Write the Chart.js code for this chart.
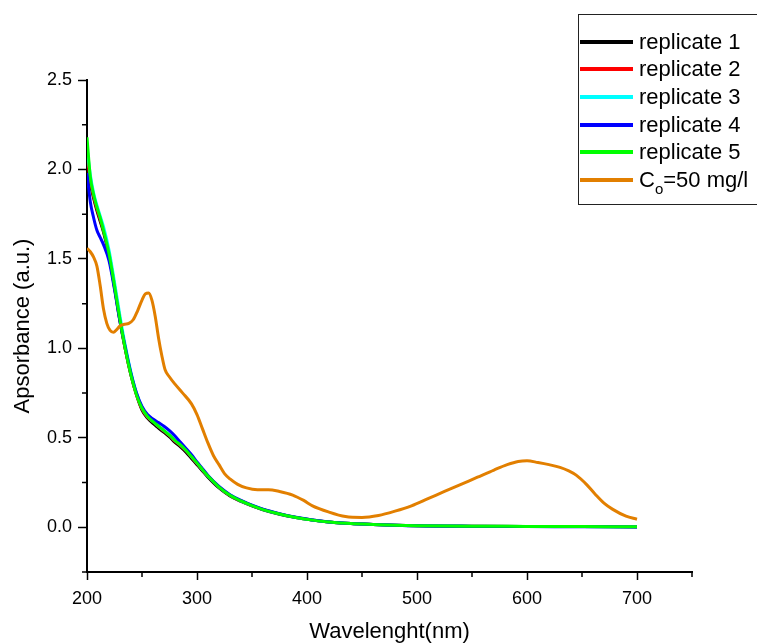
<!DOCTYPE html>
<html>
<head>
<meta charset="utf-8">
<script src="https://cdn.jsdelivr.net/npm/chart.js@4"></script>
<style>
  body { margin: 0; background: #fff; }
  #wrap { position: relative; width: 757px; height: 643px; overflow: hidden; }
  #legend {
    position: absolute; left: 578px; top: 14px; width: 200px; height: 191px;
    border: 1.5px solid #222; box-sizing: border-box;
    font-family: Arial, "Liberation Sans", sans-serif; font-size: 22px; color: #000;
  }
  .row { position: absolute; left: 0; height: 26px; }
  .row i { position: absolute; left: 1px; top: 11px; width: 53px; height: 4px; }
  .row span { position: absolute; left: 60px; top: 0; line-height: 26px; white-space: nowrap; }
  .row sub { font-size: 15px; vertical-align: -7px; line-height: 0; }
</style>
</head>
<body>
<div id="wrap">
  <canvas id="c" width="757" height="643"></canvas>
  <div id="legend"></div>
</div>
<script>
// replicates share one wavelength grid
const repWavelength = [200, 203, 206, 209, 212, 215, 220, 225, 230, 235, 240, 245, 250, 255, 260, 265, 270, 275, 280, 285, 290, 295, 300, 305, 310, 320, 330, 340, 350, 360, 375, 390, 405, 420, 440, 460, 480, 500, 550, 600, 650, 700];
const rep1 = [2.02, 1.92, 1.84, 1.77, 1.71, 1.65, 1.52, 1.34, 1.15, 0.99, 0.85, 0.74, 0.655, 0.61, 0.58, 0.555, 0.53, 0.505, 0.475, 0.45, 0.42, 0.385, 0.35, 0.315, 0.28, 0.22, 0.175, 0.145, 0.12, 0.098, 0.073, 0.054, 0.04, 0.03, 0.021, 0.016, 0.012, 0.009, 0.006, 0.004, 0.004, 0.003];
const rep2 = [2.08, 1.94, 1.85, 1.78, 1.72, 1.66, 1.53, 1.35, 1.16, 0.99, 0.85, 0.74, 0.66, 0.615, 0.59, 0.562, 0.537, 0.512, 0.482, 0.457, 0.428, 0.393, 0.357, 0.32, 0.285, 0.224, 0.178, 0.147, 0.121, 0.1, 0.075, 0.055, 0.041, 0.03, 0.021, 0.016, 0.012, 0.009, 0.006, 0.005, 0.005, 0.003];
const rep3 = [2.12, 1.97, 1.87, 1.8, 1.74, 1.68, 1.55, 1.37, 1.18, 1.01, 0.865, 0.75, 0.67, 0.62, 0.592, 0.566, 0.541, 0.516, 0.486, 0.461, 0.431, 0.396, 0.36, 0.323, 0.287, 0.226, 0.18, 0.148, 0.122, 0.1, 0.075, 0.055, 0.041, 0.03, 0.021, 0.016, 0.012, 0.009, 0.006, 0.004, 0.004, 0.003];
const rep4 = [1.98, 1.82, 1.73, 1.66, 1.62, 1.58, 1.49, 1.33, 1.15, 1.0, 0.86, 0.75, 0.675, 0.63, 0.605, 0.585, 0.565, 0.54, 0.51, 0.475, 0.44, 0.405, 0.365, 0.328, 0.29, 0.228, 0.182, 0.15, 0.123, 0.101, 0.076, 0.056, 0.041, 0.03, 0.021, 0.016, 0.012, 0.008, 0.005, 0.004, 0.003, 0.002];
const rep5 = [2.18, 1.96, 1.86, 1.79, 1.73, 1.66, 1.53, 1.35, 1.16, 0.99, 0.85, 0.74, 0.665, 0.62, 0.59, 0.565, 0.54, 0.515, 0.485, 0.46, 0.43, 0.395, 0.36, 0.322, 0.286, 0.225, 0.179, 0.147, 0.121, 0.099, 0.074, 0.055, 0.04, 0.03, 0.021, 0.016, 0.012, 0.009, 0.006, 0.005, 0.004, 0.003];

// Co = 50 mg/l
const coWavelength = [200, 203, 206, 209, 212, 215, 218, 221, 224, 227, 230, 234, 238, 242, 246, 250, 253, 256, 259, 262, 265, 268, 271, 275, 280, 287, 295, 300, 305, 310, 315, 320, 325, 330, 337, 345, 355, 365, 375, 387, 397, 405, 420, 435, 450, 465, 480, 495, 510, 525, 540, 555, 570, 582, 592, 600, 610, 620, 630, 638, 645, 654, 662, 670, 678, 690, 700];
const coValues = [1.56, 1.54, 1.51, 1.46, 1.35, 1.22, 1.14, 1.1, 1.09, 1.105, 1.125, 1.135, 1.14, 1.16, 1.21, 1.27, 1.305, 1.31, 1.27, 1.18, 1.06, 0.96, 0.88, 0.84, 0.8, 0.75, 0.69, 0.63, 0.55, 0.47, 0.4, 0.35, 0.3, 0.27, 0.24, 0.22, 0.21, 0.21, 0.2, 0.18, 0.15, 0.12, 0.085, 0.06, 0.055, 0.066, 0.09, 0.12, 0.16, 0.2, 0.24, 0.28, 0.32, 0.35, 0.368, 0.372, 0.362, 0.35, 0.335, 0.315, 0.29, 0.24, 0.185, 0.135, 0.1, 0.062, 0.045];

const xMajor = [200, 300, 400, 500, 600, 700];
const xMinor = [250, 350, 450, 550, 650, 750];
const yMajor = [0, 0.5, 1.0, 1.5, 2.0, 2.5];
const yMinor = [-0.25, 0.25, 0.75, 1.25, 1.75, 2.25];

const seriesNames = ['replicate 1', 'replicate 2', 'replicate 3', 'replicate 4', 'replicate 5', 'C<sub>o</sub>=50 mg/l'];
const seriesColors = ['#000000', '#ff0000', '#00ffff', '#0000ff', '#00ff00', '#e27f00'];

const pts = (xs, ys) => xs.map((x, i) => ({ x: x, y: ys[i] }));
const allSeries = [
  pts(repWavelength, rep1), pts(repWavelength, rep2), pts(repWavelength, rep3),
  pts(repWavelength, rep4), pts(repWavelength, rep5), pts(coWavelength, coValues)
];

const FONT = 'Arial, "Liberation Sans", sans-serif';

// short minor ticks, Origin style
const minorTicks = {
  id: 'minorTicks',
  afterDraw(chart) {
    const ctx = chart.ctx, xs = chart.scales.x, ys = chart.scales.y;
    ctx.save();
    ctx.strokeStyle = '#000';
    ctx.lineWidth = 1.5;
    ctx.beginPath();
    xMinor.forEach(v => {
      const p = xs.getPixelForValue(v);
      ctx.moveTo(p, xs.top); ctx.lineTo(p, xs.top + 5);
    });
    yMinor.forEach(v => {
      const p = ys.getPixelForValue(v);
      ctx.moveTo(ys.right - 5, p); ctx.lineTo(ys.right, p);
    });
    ctx.stroke();
    ctx.restore();
  }
};

new Chart(document.getElementById('c'), {
  type: 'line',
  data: {
    datasets: allSeries.map((d, i) => ({
      label: seriesNames[i],
      data: d,
      borderColor: seriesColors[i],
      backgroundColor: seriesColors[i],
      borderWidth: 3,
      pointRadius: 0,
      cubicInterpolationMode: 'monotone',
      order: allSeries.length - i
    }))
  },
  options: {
    responsive: false,
    animation: false,
    layout: { padding: { top: 80, right: 65, left: 0, bottom: 0 } },
    plugins: { legend: { display: false }, tooltip: { enabled: false } },
    scales: {
      x: {
        type: 'linear',
        min: 200,
        max: 750,
        afterBuildTicks: s => { s.ticks = xMajor.map(v => ({ value: v })); },
        afterFit: s => { s.height = 71; },
        ticks: { color: '#000', font: { family: FONT, size: 18 }, padding: 8, maxRotation: 0 },
        grid: { drawOnChartArea: false, tickLength: 8, tickColor: '#000', tickWidth: 1.5 },
        border: { color: '#000', width: 2 },
        title: { display: true, text: 'Wavelenght(nm)', color: '#000', font: { family: FONT, size: 22 }, padding: { top: 0, bottom: -2 } }
      },
      y: {
        min: -0.25,
        max: 2.5,
        afterBuildTicks: s => { s.ticks = yMajor.map(v => ({ value: v })); },
        afterFit: s => { s.width = 87; },
        ticks: { color: '#000', font: { family: FONT, size: 18 }, padding: 6, callback: v => v.toFixed(1) },
        grid: { drawOnChartArea: false, tickLength: 9, tickColor: '#000', tickWidth: 1.5 },
        border: { color: '#000', width: 2 },
        title: { display: true, text: 'Apsorbance (a.u.)', color: '#000', font: { family: FONT, size: 22 }, padding: { top: 10, bottom: 0 } }
      }
    }
  },
  plugins: [minorTicks]
});

// legend box in the top right corner
const rowTops = [27, 54, 82, 110, 137, 165];
document.getElementById('legend').innerHTML = seriesNames.map((name, i) =>
  '<div class="row" style="top:' + (rowTops[i] - 13) + 'px"><i style="background:' + seriesColors[i] + '"></i><span>' + name + '</span></div>'
).join('');
</script>
</body>
</html>
